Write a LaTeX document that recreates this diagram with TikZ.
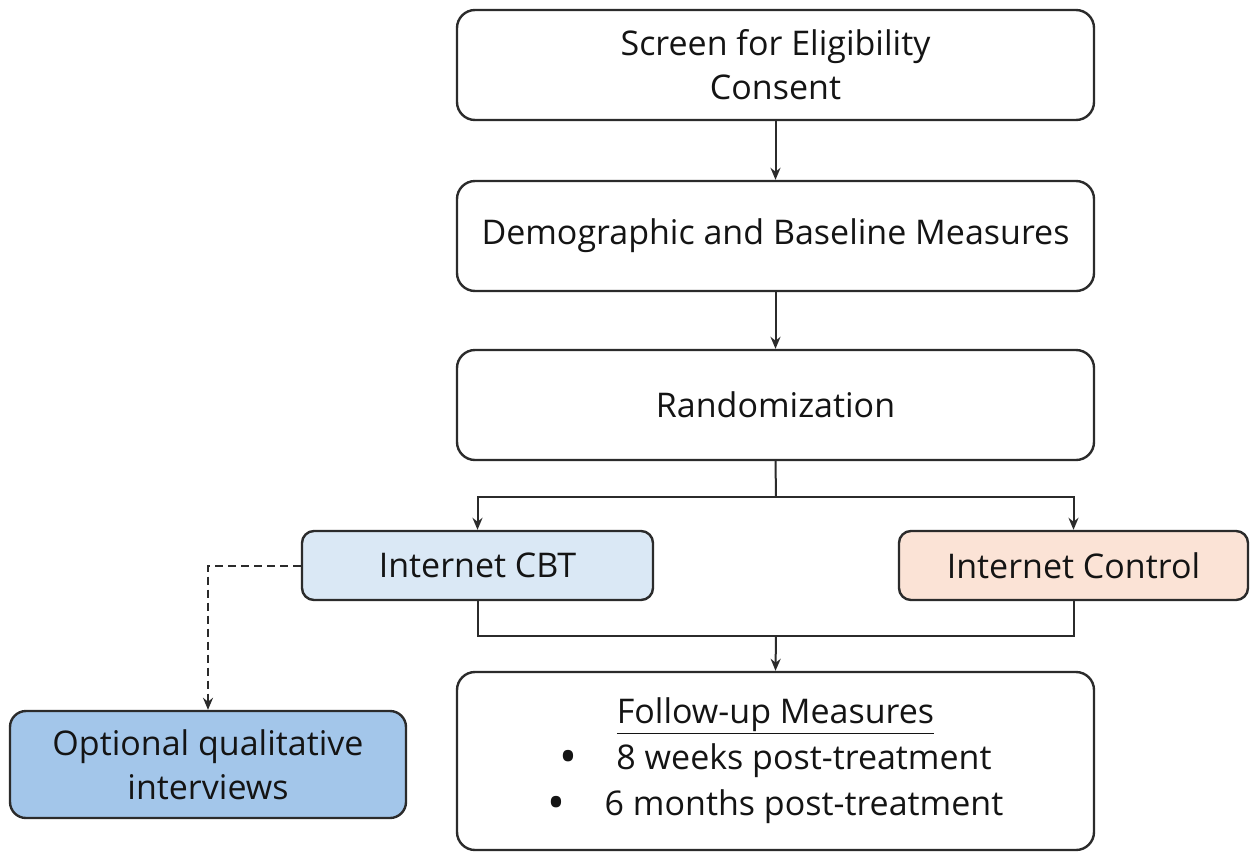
\documentclass[tikz,border=0pt]{standalone}
\usepackage{fontspec}
\setmainfont{Open Sans}
\usetikzlibrary{arrows.meta}
\definecolor{cbtfill}{HTML}{DAE8F5}
\definecolor{ctrlfill}{HTML}{FBE3D6}
\definecolor{optfill}{HTML}{A3C6EA}
\definecolor{linec}{HTML}{2B2B2B}
\newcommand{\bigbul}{\raisebox{-0.1em}{\scalebox{1.4}{\textbullet}}}
\begin{document}
\begin{tikzpicture}[x=1pt,y=-1pt,
  box/.style={draw=linec,line width=2.4pt,rounded corners=18pt,fill=white,inner sep=0pt,
    font=\fontsize{34}{44}\selectfont,text=black!92,align=center},
  conn/.style={draw=linec,line width=2pt},
  arr/.style={conn,-{Stealth[length=12pt,width=10pt]}}]
\useasboundingbox (0,0) rectangle (1250,852);
\node[box,minimum width=637pt,minimum height=110pt] (screen) at (775.5,65) {Screen for Eligibility\\Consent};
\node[box,minimum width=637pt,minimum height=110pt] (demo) at (775.5,236) {Demographic and Baseline Measures};
\node[box,minimum width=637pt,minimum height=110pt] (rand) at (775.5,405) {Randomization};
\node[box,fill=cbtfill,minimum width=351pt,minimum height=69pt,rounded corners=12pt] (cbt) at (477.5,565.5) {Internet CBT};
\node[box,fill=ctrlfill,minimum width=349pt,minimum height=69pt,rounded corners=12pt] (ctrl) at (1073.5,565.5) {Internet Control};
\node[box,minimum width=637pt,minimum height=178pt,font=\fontsize{34}{46}\selectfont] (follow) at (775.5,761)
  {\underline{Follow-up Measures}\\
   \bigbul\hspace{1.15em}8 weeks post-treatment\\
   \bigbul\hspace{1.15em}6 months post-treatment};
\node[box,fill=optfill,minimum width=396pt,minimum height=107pt,rounded corners=16pt] (opt) at (208,764.5) {Optional qualitative\\interviews};
\coordinate (split) at (776,497);
\coordinate (merge) at (776,636);
\draw[arr] (screen.south) -- (demo.north);
\draw[arr] (demo.south) -- (rand.north);
\draw[conn] (rand.south) -- (split);
\draw[arr] (split) -| (cbt.north);
\draw[arr] (split) -| (ctrl.north);
\draw[conn] (cbt.south) |- (merge);
\draw[conn] (ctrl.south) |- (merge);
\draw[arr] (merge) -- (follow.north);
\draw[conn,dash pattern=on 8pt off 5pt,-{Stealth[length=12pt,width=10pt]}] (cbt.west) -| (opt.north);
\end{tikzpicture}
\end{document}
